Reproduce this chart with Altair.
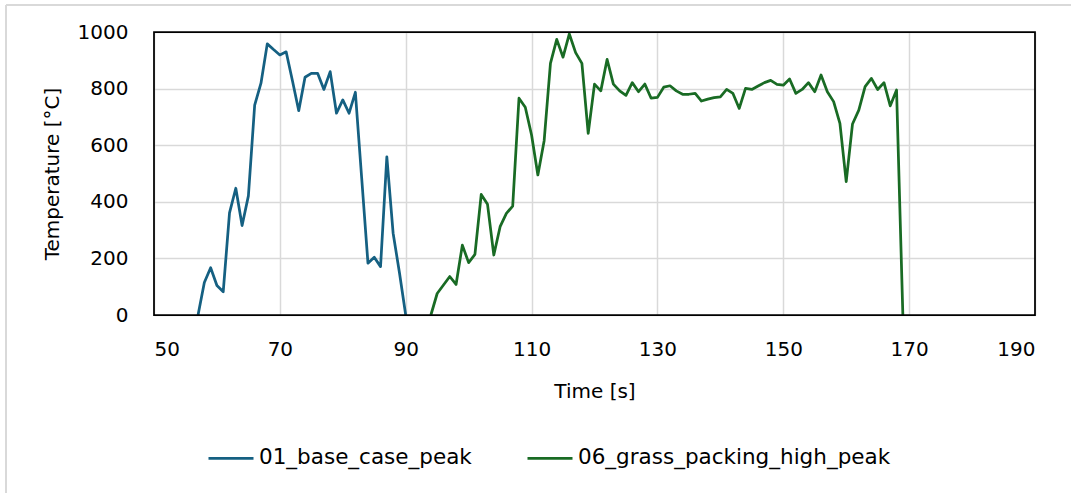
import altair as alt
import pandas as pd

# Time [s] and peak temperature [°C] for each case
base_name = "01_base_case_peak"
base_time = list(range(57, 91))
base_temp = [0, 115, 167, 104, 82, 361, 448, 316, 421, 742, 819, 958, 938, 919,
             930, 828, 722, 840, 854, 854, 797, 860, 713, 760, 713, 787, 485,
             183, 204, 171, 559, 289, 150, 0]

grass_name = "06_grass_packing_high_peak"
grass_time = list(range(94, 170))
grass_temp = [0, 76, 106, 136, 108, 247, 185, 214, 426, 391, 212, 312, 359, 385,
              766, 734, 636, 495, 616, 889, 974, 911, 993, 927, 889, 642, 816,
              792, 903, 816, 792, 776, 821, 789, 816, 766, 769, 805, 810, 792,
              780, 780, 783, 756, 763, 768, 771, 797, 783, 730, 801, 797, 809,
              821, 829, 815, 812, 834, 783, 797, 821, 789, 848, 789, 754, 677,
              471, 675, 724, 807, 836, 797, 821, 739, 795, 0]

series_names = [base_name, grass_name]
series_colors = ["#156082", "#196B24"]

x_ticks = [50, 70, 90, 110, 130, 150, 170, 190]
y_ticks = [0, 200, 400, 600, 800, 1000]

df = pd.concat([
    pd.DataFrame({"Time": base_time, "Temp": base_temp, "Series": base_name}),
    pd.DataFrame({"Time": grass_time, "Temp": grass_temp, "Series": grass_name}),
])

FONT = "DejaVu Sans"

lines = alt.Chart(df).mark_line(strokeWidth=2.75, strokeJoin="round").encode(
    x=alt.X("Time:Q",
            scale=alt.Scale(domain=[50, 190], nice=False, zero=False),
            axis=alt.Axis(values=x_ticks, format="d", title="Time [s]", grid=True,
                          ticks=False, domain=False, labelPadding=24,
                          titleY=76, titleBaseline="middle",
                          titleFontWeight="normal")),
    y=alt.Y("Temp:Q",
            scale=alt.Scale(domain=[0, 1000], nice=False),
            axis=alt.Axis(values=y_ticks, format="d", title="Temperature [°C]", grid=True,
                          ticks=False, domain=False, labelPadding=26,
                          titleX=-102, titleY=141.5, titleAngle=-90,
                          titleAlign="center", titleBaseline="middle",
                          titleFontWeight="normal")),
    color=alt.Color("Series:N",
                    scale=alt.Scale(domain=series_names, range=series_colors),
                    legend=alt.Legend(title=None, orient="none", direction="horizontal",
                                      legendX=53, legendY=402,
                                      symbolType="stroke", symbolSize=2025,
                                      symbolStrokeWidth=2.75, labelOffset=4,
                                      columnPadding=50, labelFont=FONT,
                                      labelFontSize=21.5, labelLimit=600,
                                      labelColor="#000000")),
    detail="Series:N",
)

# black outline of the plot area, drawn above the gridlines
plot_frame = alt.Chart().mark_rect(fill=None, stroke="#000000", strokeWidth=1.75).encode(
    x=alt.value(0), x2=alt.value(881), y=alt.value(0), y2=alt.value(283))

# light frame along the top and left edge of the chart area
frame_top = alt.Chart().mark_rule(color="#d9d9d9", strokeWidth=2).encode(
    x=alt.value(-148), x2=alt.value(917), y=alt.value(-27))
frame_left = alt.Chart().mark_rule(color="#d9d9d9", strokeWidth=2).encode(
    x=alt.value(-148), y=alt.value(-27), y2=alt.value(461))

chart = alt.layer(frame_top, frame_left, lines, plot_frame).properties(
    width=881, height=283,
    padding={"left": 154, "top": 32, "right": 36, "bottom": 178},
    autosize=alt.AutoSizeParams(type="none"),
    background="white",
).configure_view(
    stroke=None,
).configure_axis(
    gridColor="#d9d9d9", gridWidth=1.5,
    labelFont=FONT, labelFontSize=20, labelColor="#000000",
    titleFont=FONT, titleFontSize=20, titleColor="#000000",
)

chart.save("out.html", embed_options={"renderer": "svg", "actions": False})
